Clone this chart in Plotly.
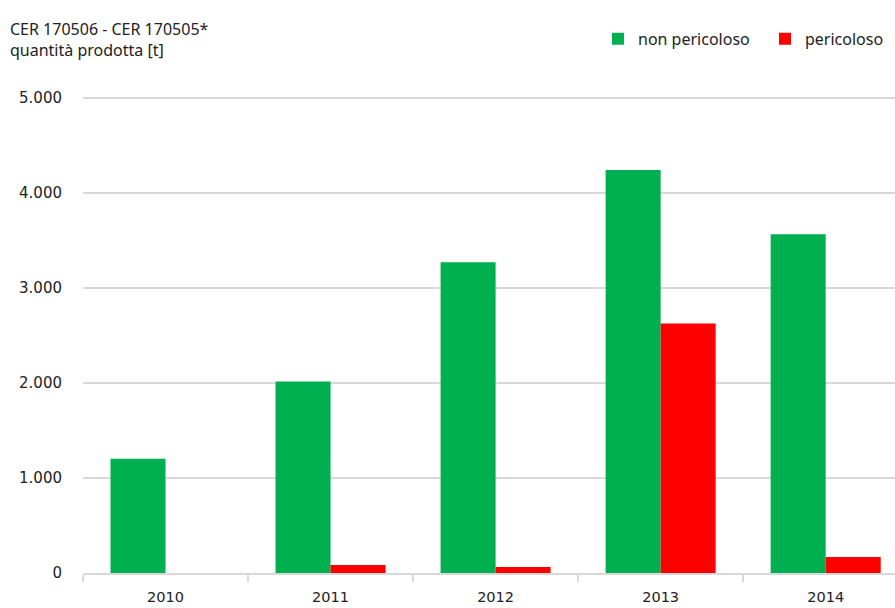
import plotly.graph_objects as go

years = ["2010", "2011", "2012", "2013", "2014"]
non_pericoloso = [1203, 2015, 3270, 4242, 3566]
pericoloso = [0, 84, 63, 2627, 169]
y_ticks = [0, 1000, 2000, 3000, 4000, 5000]

fig = go.Figure()
fig.add_trace(go.Bar(x=years, y=non_pericoloso, name="non pericoloso",
                     marker=dict(color="#00b050", line=dict(width=0))))
fig.add_trace(go.Bar(x=years, y=pericoloso, name="pericoloso",
                     marker=dict(color="#ff0000", line=dict(width=0))))

fig.update_layout(
    width=895, height=608,
    margin=dict(l=83, r=0, t=96, b=35, autoexpand=False),
    paper_bgcolor="white", plot_bgcolor="white",
    barmode="group", bargap=1/3, bargroupgap=0,
    separators=",.",
    font=dict(family="Noto Sans, DejaVu Sans", size=15, color="#222"),
    showlegend=True,
    legend=dict(orientation="h", x=(598 - 83) / 812, xanchor="left", y=1.12, yanchor="middle",
                font=dict(size=16, family="Noto Sans", color="#222"), itemwidth=30,
                entrywidth=122,
                bgcolor="rgba(0,0,0,0)", traceorder="normal"),
    annotations=[dict(text="CER 170506 - CER 170505*<br>quantità prodotta [t]",
                      xref="paper", yref="paper", x=-75/812, y=1.118,
                      xanchor="left", yanchor="middle", showarrow=False, align="left",
                      font=dict(size=16, family="Noto Sans", color="#222"))],
)
fig.update_xaxes(range=[-0.5, 4.42], showline=True, linecolor="#d9d9d9", linewidth=2,
                 ticks="outside", tickson="boundaries", ticklen=7, tickcolor="#d9d9d9",
                 tickwidth=2, showgrid=False, ticklabelstandoff=10,
                 tickfont=dict(family="DejaVu Sans", size=14.5, color="#222"))
fig.update_yaxes(range=[0, 5020], tickvals=y_ticks, tickformat=",d", showgrid=True,
                 gridcolor="#d9d9d9", gridwidth=2, zeroline=False,
                 ticklabelstandoff=20,
                 tickfont=dict(family="DejaVu Sans", size=15, color="#222"))

fig.write_html("out.html", config={"displayModeBar": False},
               post_script="document.body.style.margin='0';document.body.style.overflow='hidden';")
